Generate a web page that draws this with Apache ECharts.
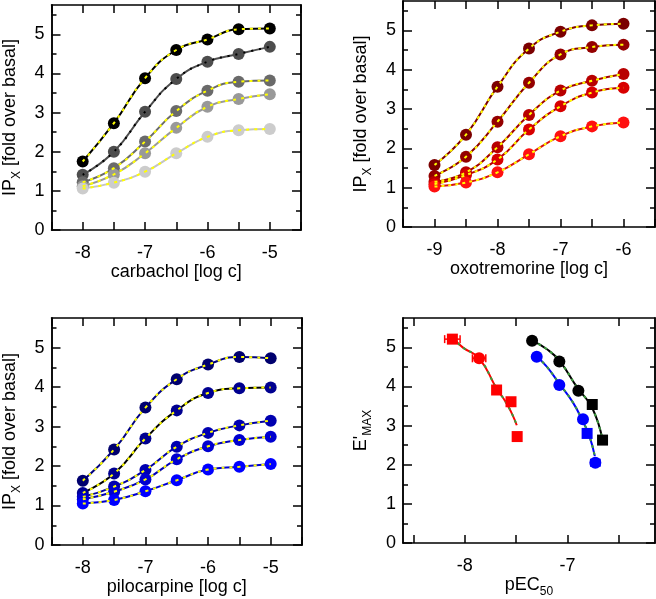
<!DOCTYPE html>
<html>
<head>
<meta charset="utf-8">
<script src="https://cdn.jsdelivr.net/npm/echarts@6/dist/echarts.min.js"></script>
<style>
  html, body { margin: 0; padding: 0; background: #fff; }
  #chart { width: 656px; height: 599px; }
</style>
</head>
<body>
<div id="chart"></div>
<script>
// carbachol panel
const carbX = [-8, -7.5, -7, -6.5, -6, -5.5, -5];
const carbA = [1.75, 2.73, 3.88, 4.60, 4.87, 5.13, 5.15];
const carbB = [1.41, 2.00, 3.02, 3.86, 4.30, 4.50, 4.68];
const carbC = [1.22, 1.58, 2.26, 3.04, 3.56, 3.79, 3.82];
const carbD = [1.12, 1.42, 1.96, 2.61, 3.15, 3.35, 3.47];
const carbE = [1.06, 1.21, 1.49, 1.96, 2.38, 2.55, 2.58];

// oxotremorine panel
const oxoX = [-9, -8.5, -8, -7.5, -7, -6.5, -6];
const oxoA = [1.58, 2.35, 3.57, 4.54, 4.97, 5.13, 5.17];
const oxoB = [1.30, 1.79, 2.68, 3.67, 4.39, 4.58, 4.64];
const oxoC = [1.15, 1.39, 2.03, 2.85, 3.47, 3.72, 3.89];
const oxoD = [1.09, 1.32, 1.72, 2.48, 3.07, 3.42, 3.54];
const oxoE = [1.03, 1.13, 1.39, 1.85, 2.31, 2.56, 2.66];

// pilocarpine panel
const piloX = [-8, -7.5, -7, -6.5, -6, -5.5, -5];
const piloA = [1.63, 2.42, 3.48, 4.20, 4.57, 4.76, 4.73];
const piloB = [1.32, 1.81, 2.70, 3.41, 3.85, 3.97, 3.99];
const piloC = [1.22, 1.48, 1.90, 2.49, 2.84, 3.03, 3.15];
const piloD = [1.16, 1.35, 1.66, 2.17, 2.50, 2.66, 2.74];
const piloE = [1.05, 1.14, 1.36, 1.64, 1.91, 1.98, 2.05];

// E'max vs pEC50 panel
const redX = [-8.12, -7.86, -7.69, -7.55, -7.49];
const redY = [5.21, 4.72, 3.91, 3.61, 2.72];
const redErr = [0.075, 0.065, 0.03, 0.035, 0.02];
const redSym = ['rect', 'circle', 'rect', 'rect', 'rect'];
const blackX = [-7.345, -7.08, -6.895, -6.76, -6.66];
const blackY = [5.17, 4.64, 3.89, 3.54, 2.63];
const blackErr = [0.02, 0.02, 0.02, 0.02, 0.03];
const blackSym = ['circle', 'circle', 'circle', 'rect', 'rect'];
const blueX = [-7.30, -7.08, -6.85, -6.81, -6.73];
const blueY = [4.76, 4.04, 3.16, 2.80, 2.05];
const blueErr = [0.02, 0.02, 0.02, 0.025, 0.045];
const blueSym = ['circle', 'circle', 'circle', 'rect', 'circle'];

// fitted curves in the last panel
const redFitX = [-8.115, -8.02, -7.86, -7.69, -7.60, -7.54, -7.494];
const redFitY = [5.24, 5.00, 4.72, 3.95, 3.60, 3.30, 3.01];
const blackFitX = [-7.345, -7.20, -7.08, -6.90, -6.76, -6.66];
const blackFitY = [5.17, 4.95, 4.66, 3.95, 3.45, 2.63];
const blueFitX = [-7.297, -7.20, -7.08, -6.95, -6.85, -6.79, -6.735];
const blueFitY = [4.76, 4.50, 4.07, 3.60, 3.10, 2.75, 2.22];

// axis ticks
const yMajor = [0, 1, 2, 3, 4, 5];
const yMinor = [0.5, 1.5, 2.5, 3.5, 4.5, 5.5];
const carbTicks = [-8.5, -8, -7.5, -7, -6.5, -6, -5.5, -5, -4.5];
const carbLabels = [-8, -7, -6, -5];
const oxoTicks = [-9.5, -9, -8.5, -8, -7.5, -7, -6.5, -6, -5.5];
const oxoLabels = [-9, -8, -7, -6];
const pecTicks = [-8.5, -8, -7.5, -7, -6.5];
const pecLabels = [-8, -7];

const FONT = 'Liberation Sans';
const FS = 18;
const Y_MAX = 5.75;

const nameStyle = {
  fontFamily: FONT, fontSize: FS, color: '#000',
  rich: {
    n: { fontFamily: FONT, fontSize: FS, lineHeight: 25, color: '#000' },
    s: { fontFamily: FONT, fontSize: 12, lineHeight: 12, verticalAlign: 'bottom', color: '#000' }
  }
};

const grids = [
  { left: 49, top: 5, width: 252, height: 225 },
  { left: 403, top: 1, width: 252, height: 226 },
  { left: 49, top: 318, width: 253, height: 227 },
  { left: 403, top: 318, width: 252, height: 226 }
];

const frameLine = { show: true, onZero: false, lineStyle: { color: '#000', width: 1.5 } };

function xAxes(g, min, max, ticks, labels, name) {
  const base = {
    type: 'value', gridIndex: g, min: min, max: max,
    splitLine: { show: false }, axisLine: frameLine,
    axisTick: { inside: true, length: 8, customValues: ticks, lineStyle: { color: '#000', width: 1.5 } }
  };
  return [
    Object.assign({}, base, {
      position: 'bottom', name: name, nameLocation: 'middle', nameGap: 30, nameTextStyle: nameStyle,
      axisLabel: { customValues: labels, margin: 14, fontFamily: FONT, fontSize: FS, color: '#000' }
    }),
    Object.assign({}, base, { position: 'top', axisLabel: { show: false } })
  ];
}

function yAxes(g, name) {
  const base = {
    type: 'value', gridIndex: g, min: 0, max: Y_MAX,
    splitLine: { show: false }, axisLine: frameLine
  };
  const major = { inside: true, length: 9, customValues: yMajor, lineStyle: { color: '#000', width: 1.5 } };
  const minor = { inside: true, length: 5, customValues: yMinor, lineStyle: { color: '#000', width: 1.5 } };
  return [
    Object.assign({}, base, {
      position: 'left', axisTick: major, name: name, nameLocation: 'middle', nameGap: 29,
      nameTextStyle: nameStyle,
      axisLabel: { customValues: yMajor, margin: 7, fontFamily: FONT, fontSize: FS, color: '#000' }
    }),
    Object.assign({}, base, { position: 'left', axisTick: minor, axisLabel: { show: false } }),
    Object.assign({}, base, { position: 'right', axisTick: major, axisLabel: { show: false } }),
    Object.assign({}, base, { position: 'right', axisTick: minor, axisLabel: { show: false } })
  ];
}

// dose-response curve: coloured line with markers, dashed overlay on top
function curve(g, xs, ys, color, lineColor, dashColor, dash) {
  const data = xs.map((x, k) => [x, ys[k]]);
  return [
    {
      type: 'line', xAxisIndex: 2 * g, yAxisIndex: 4 * g, data: data,
      smooth: 0.5, symbol: 'circle', symbolSize: 12,
      itemStyle: { color: color }, lineStyle: { color: lineColor, width: 2 }, z: 2
    },
    {
      type: 'line', xAxisIndex: 2 * g, yAxisIndex: 4 * g, data: data,
      smooth: 0.5, symbol: 'none',
      lineStyle: { color: dashColor, width: 2, type: dash }, z: 3
    }
  ];
}

function fit(xs, ys, color) {
  const data = xs.map((x, k) => [x, ys[k]]);
  return [
    {
      type: 'line', xAxisIndex: 6, yAxisIndex: 12, data: data, smooth: 0.5,
      symbol: 'none', lineStyle: { color: color, width: 2 }, z: 2
    },
    {
      type: 'line', xAxisIndex: 6, yAxisIndex: 12, data: data, smooth: 0.5,
      symbol: 'none', lineStyle: { color: '#3c9a3c', width: 2, type: [3, 4] }, z: 3
    }
  ];
}

function points(xs, ys, syms, color) {
  return {
    type: 'scatter', xAxisIndex: 6, yAxisIndex: 12, z: 5,
    data: xs.map((x, k) => ({ value: [x, ys[k]], symbol: syms[k], symbolSize: syms[k] === 'rect' ? 11 : 12 })),
    itemStyle: { color: color, opacity: 1 }
  };
}

function errBars(xs, ys, errs, color) {
  return {
    type: 'custom', xAxisIndex: 6, yAxisIndex: 12, z: 4,
    data: xs.map((x, k) => [x - errs[k], x + errs[k], ys[k]]),
    encode: { x: [0, 1], y: 2 },
    renderItem: function (params, api) {
      const a = api.coord([api.value(0), api.value(2)]);
      const b = api.coord([api.value(1), api.value(2)]);
      const st = { stroke: color, lineWidth: 1.5 };
      return {
        type: 'group', children: [
          { type: 'line', shape: { x1: a[0], y1: a[1], x2: b[0], y2: b[1] }, style: st },
          { type: 'line', shape: { x1: a[0], y1: a[1] - 4, x2: a[0], y2: a[1] + 4 }, style: st },
          { type: 'line', shape: { x1: b[0], y1: b[1] - 4, x2: b[0], y2: b[1] + 4 }, style: st }
        ]
      };
    }
  };
}

const Y_NAME = '{n|IP}{s|X}{n| [fold over basal]}';
const YEL = '#ffff00';

const series = [].concat(
  curve(0, carbX, carbA, '#000000', '#000000', YEL, [3, 5]),
  curve(0, carbX, carbB, '#4d4d4d', '#4d4d4d', '#000000', [2, 6]),
  curve(0, carbX, carbC, '#6a6a6a', '#6a6a6a', YEL, [3, 5]),
  curve(0, carbX, carbD, '#999999', '#999999', YEL, [3, 5]),
  curve(0, carbX, carbE, '#cccccc', '#c4c4c4', YEL, [3, 5]),
  curve(1, oxoX, oxoA, '#7b0000', '#7b0000', YEL, [3, 4]),
  curve(1, oxoX, oxoB, '#940000', '#8a0000', YEL, [3, 4]),
  curve(1, oxoX, oxoC, '#b80000', '#a00000', YEL, [3, 4]),
  curve(1, oxoX, oxoD, '#d80000', '#b80000', YEL, [3, 4]),
  curve(1, oxoX, oxoE, '#ff1010', '#d81010', YEL, [3, 4]),
  curve(2, piloX, piloA, '#00006e', '#000080', YEL, [3, 5]),
  curve(2, piloX, piloB, '#000090', '#000000', YEL, [3, 5]),
  curve(2, piloX, piloC, '#0000b0', '#0000a0', YEL, [3, 5]),
  curve(2, piloX, piloD, '#0000d0', '#0000b8', YEL, [3, 5]),
  curve(2, piloX, piloE, '#0000ff', '#0000d0', YEL, [3, 5]),
  fit(redFitX, redFitY, '#ff0000'),
  fit(blackFitX, blackFitY, '#000000'),
  fit(blueFitX, blueFitY, '#0000ff'),
  [
    errBars(redX, redY, redErr, '#ff0000'),
    errBars(blackX, blackY, blackErr, '#000000'),
    errBars(blueX, blueY, blueErr, '#0000ff'),
    points(redX, redY, redSym, '#ff0000'),
    points(blackX, blackY, blackSym, '#000000'),
    points(blueX, blueY, blueSym, '#0000ff')
  ]
);

const chart = echarts.init(document.getElementById('chart'));
chart.setOption({
  animation: false,
  backgroundColor: '#fff',
  grid: grids,
  xAxis: [].concat(
    xAxes(0, -8.5, -4.5, carbTicks, carbLabels, '{n|carbachol [log c]}'),
    xAxes(1, -9.5, -5.5, oxoTicks, oxoLabels, '{n|oxotremorine [log c]}'),
    xAxes(2, -8.5, -4.5, carbTicks, carbLabels, '{n|pilocarpine [log c]}'),
    xAxes(3, -8.6, -6.15, pecTicks, pecLabels, '{n|pEC}{s|50}')
  ),
  yAxis: [].concat(
    yAxes(0, Y_NAME),
    yAxes(1, Y_NAME),
    yAxes(2, Y_NAME),
    yAxes(3, "{n|E'}{s|MAX}")
  ),
  series: series
});
</script>
</body>
</html>
